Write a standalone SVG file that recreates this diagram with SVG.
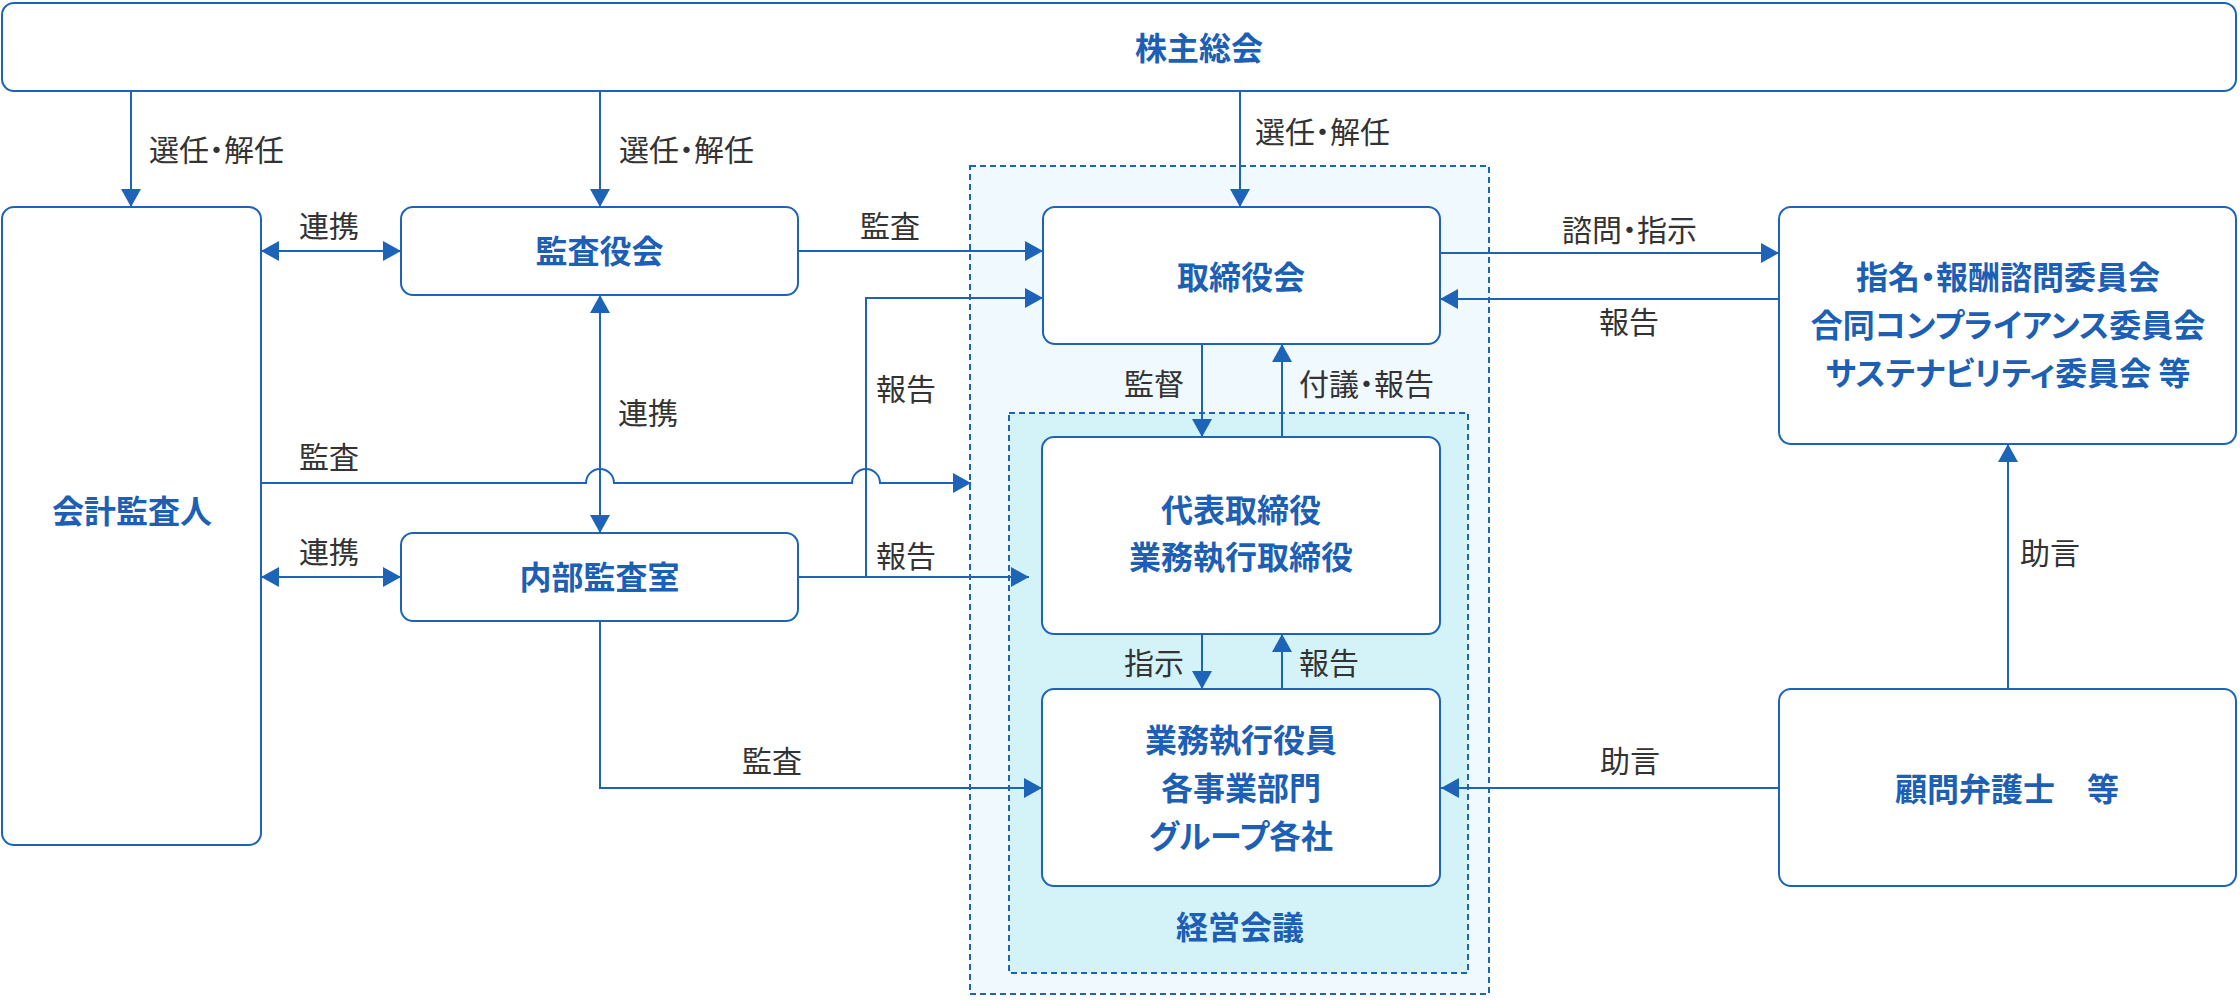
<svg xmlns="http://www.w3.org/2000/svg" width="2240" height="1000" viewBox="0 0 2240 1000">
<style>
text{font-family:"Noto Sans CJK JP","Noto Sans",sans-serif;font-feature-settings:"palt"}
.box{fill:#fff;stroke:#1d63b8;stroke-width:2}
.grp{stroke:#1d63b8;stroke-width:2;stroke-dasharray:6 4}
.nt{font-size:32px;font-weight:700;fill:#1d5fb5;text-anchor:middle}
.lb{font-size:30px;fill:#333}
.c{fill:none;stroke:#1d63b8;stroke-width:2}
.a{marker-end:url(#ah)}
.d{marker-start:url(#ah);marker-end:url(#ah)}
</style>
<defs>
<marker id="ah" markerUnits="userSpaceOnUse" markerWidth="18" markerHeight="20" refX="18" refY="10" orient="auto-start-reverse" viewBox="0 0 18 20">
<path d="M0,0 L18,10 L0,20 z" fill="#1d63b8"/>
</marker>
</defs>
<rect width="2240" height="1000" fill="#fff"/>
<g id="group-board">
<rect class="grp" x="970" y="166" width="519" height="828" fill="#f0f9fd"/>
</g>
<g id="group-meeting">
<rect class="grp" x="1009" y="413" width="459" height="560" fill="#d3f3f8"/>
<text class="nt" x="1240" y="939">経営会議</text>
</g>
<g id="n-shareholders">
<rect class="box" x="2" y="3" width="2234" height="88" rx="12"/>
<text class="nt" x="1199" y="60">株主総会</text>
</g>
<g id="n-auditor">
<rect class="box" x="2" y="207" width="259" height="638" rx="12"/>
<text class="nt" x="132" y="523">会計監査人</text>
</g>
<g id="n-kansayaku">
<rect class="box" x="401" y="207" width="397" height="88" rx="12"/>
<text class="nt" x="599.5" y="263">監査役会</text>
</g>
<g id="n-internal">
<rect class="box" x="401" y="533" width="397" height="88" rx="12"/>
<text class="nt" x="599.5" y="589">内部監査室</text>
</g>
<g id="n-board">
<rect class="box" x="1043" y="207" width="397" height="137" rx="12"/>
<text class="nt" x="1241" y="289">取締役会</text>
</g>
<g id="n-rep">
<rect class="box" x="1042" y="437" width="398" height="197" rx="12"/>
<text class="nt" x="1241" y="522">代表取締役</text>
<text class="nt" x="1241" y="569">業務執行取締役</text>
</g>
<g id="n-exec">
<rect class="box" x="1042" y="689" width="398" height="197" rx="12"/>
<text class="nt" x="1241" y="752">業務執行役員</text>
<text class="nt" x="1241" y="800">各事業部門</text>
<text class="nt" x="1241" y="848">グループ各社</text>
</g>
<g id="n-committee">
<rect class="box" x="1779" y="207" width="457" height="237" rx="12"/>
<text class="nt" x="2008" y="289">指名・報酬諮問委員会</text>
<text class="nt" x="2008" y="337">合同コンプライアンス委員会</text>
<text class="nt" x="2008" y="385">サステナビリティ委員会 等</text>
</g>
<g id="n-advisor">
<rect class="box" x="1779" y="689" width="457" height="197" rx="12"/>
<text class="nt" x="2007" y="801">顧問弁護士　等</text>
</g>
<g id="connectors">
<path class="c a" d="M131,91 V207"/>
<path class="c a" d="M600,91 V207"/>
<path class="c a" d="M1240,91 V207"/>
<path class="c d" d="M261,251 H401"/>
<path class="c d" d="M261,577 H401"/>
<path class="c a" d="M798,251 H1043"/>
<path class="c a" d="M798,577 H1029"/>
<path class="c a" d="M866,577 V298 H1043"/>
<path class="c d" d="M600,295 V533"/>
<path class="c a" d="M261,483 H586 A14,14 0 0 1 614,483 H852 A14,14 0 0 1 880,483 H971"/>
<path class="c a" d="M1202,344 V437"/>
<path class="c a" d="M1282,437 V344"/>
<path class="c a" d="M1440,253 H1779"/>
<path class="c a" d="M1779,299 H1440"/>
<path class="c a" d="M1202,634 V689"/>
<path class="c a" d="M1282,689 V634"/>
<path class="c a" d="M600,621 V788 H1042"/>
<path class="c a" d="M1779,788 H1441"/>
<path class="c a" d="M2008,689 V444"/>
<g id="labels">
<text class="lb" x="149" y="161">選任・解任</text>
<text class="lb" x="619" y="161">選任・解任</text>
<text class="lb" x="1255" y="143">選任・解任</text>
<text class="lb" x="299" y="237">連携</text>
<text class="lb" x="860" y="237">監査</text>
<text class="lb" x="1562" y="241">諮問・指示</text>
<text class="lb" x="1599" y="333">報告</text>
<text class="lb" x="876" y="400">報告</text>
<text class="lb" x="618" y="424">連携</text>
<text class="lb" x="1124" y="395">監督</text>
<text class="lb" x="1299" y="395">付議・報告</text>
<text class="lb" x="299" y="468">監査</text>
<text class="lb" x="299" y="563">連携</text>
<text class="lb" x="876" y="567">報告</text>
<text class="lb" x="2020" y="564">助言</text>
<text class="lb" x="1124" y="674">指示</text>
<text class="lb" x="1299" y="674">報告</text>
<text class="lb" x="742" y="772">監査</text>
<text class="lb" x="1600" y="772">助言</text>
</g>
</g>
</svg>
